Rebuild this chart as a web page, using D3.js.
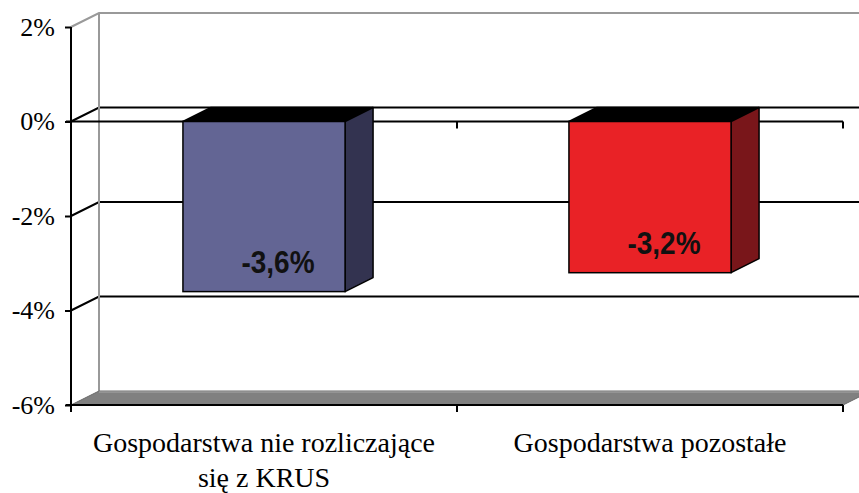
<!DOCTYPE html>
<html>
<head>
<meta charset="utf-8">
<script src="https://cdn.jsdelivr.net/npm/d3@7"></script>
<style>
  body { margin: 0; background: #fff; }
  svg { display: block; }
  .serif { font-family: 'Liberation Serif', 'Times New Roman', serif; }
</style>
</head>
<body>
<div class="chart"></div>
<script>
// data
const categories = [['Gospodarstwa nie rozliczające', 'się z KRUS'], ['Gospodarstwa pozostałe']];
const values = [-3.6, -3.2];
const valueLabels = ['-3,6%', '-3,2%'];
const tickValues = [2, 0, -2, -4, -6];

const frontColors = ['#636594', '#e92226'];
const sideColors = ['#333350', '#79161a'];

const width = 859;
const height = 493;
// depth of the 3d box
const dx = 28;
const dy = -14;

const svg = d3.select('.chart')
    .append('svg')
    .attr('width', width)
    .attr('height', height);

const y = d3.scaleLinear()
    .domain([-6, 2])
    .range([405, 27]);

const x = d3.scaleBand()
    .domain(d3.range(categories.length))
    .range([71, 843])
    .paddingInner(0.58)
    .paddingOuter(0.29);

const left = 71;
const right = 843;

// back wall + side wall gridlines
tickValues.slice(1, -1).forEach(t => {
    svg.append('polyline')
        .attr('points', [[left, y(t)], [left + dx, y(t) + dy], [right + dx, y(t) + dy]].join(' '))
        .attr('fill', 'none')
        .attr('stroke', '#000')
        .attr('stroke-width', 2);
});

// wall edges (gray)
svg.append('polyline')
    .attr('points', [[left, y(2)], [left + dx, y(2) + dy], [right + dx, y(2) + dy]].join(' '))
    .attr('fill', 'none')
    .attr('stroke', '#999')
    .attr('stroke-width', 2);
svg.append('line')
    .attr('x1', left + dx).attr('x2', left + dx)
    .attr('y1', y(2) + dy).attr('y2', y(-6) + dy)
    .attr('stroke', '#999')
    .attr('stroke-width', 2);

// floor
svg.append('polygon')
    .attr('points', [[left, y(-6)], [left + dx, y(-6) + dy], [right + dx, y(-6) + dy], [right, y(-6)]].join(' '))
    .attr('fill', '#808080')
    .attr('stroke', '#6a6a6a')
    .attr('stroke-width', 1);
svg.append('line')
    .attr('x1', left + dx).attr('x2', right + dx)
    .attr('y1', y(-6) + dy + 1).attr('y2', y(-6) + dy + 1)
    .attr('stroke', '#a8a8a8')
    .attr('stroke-width', 1);

// front category lines at 0 and at bottom, with ticks
[0, -6].forEach(level => {
    svg.append('line')
        .attr('x1', left - 5).attr('x2', right)
        .attr('y1', y(level)).attr('y2', y(level))
        .attr('stroke', '#000')
        .attr('stroke-width', 2);
    svg.selectAll('.ctick' + (-level))
        .data([left, (left + right) / 2, right])
        .enter()
        .append('line')
        .attr('x1', d => d).attr('x2', d => d)
        .attr('y1', y(level)).attr('y2', y(level) + 7)
        .attr('stroke', '#000')
        .attr('stroke-width', 2);
});

// bars
const bars = svg.selectAll('.bar')
    .data(values)
    .enter()
    .append('g')
    .attr('class', 'bar');

// top face
bars.append('polygon')
    .attr('points', (d, i) => {
        const x0 = x(i), x1 = x(i) + x.bandwidth(), y0 = y(0);
        return [[x0, y0], [x0 + dx, y0 + dy], [x1 + dx, y0 + dy], [x1, y0]].join(' ');
    })
    .attr('fill', '#000')
    .attr('stroke', '#000')
    .attr('stroke-width', 1.5)
    .attr('stroke-linejoin', 'round');
// side face
bars.append('polygon')
    .attr('points', (d, i) => {
        const x1 = x(i) + x.bandwidth(), y0 = y(0), y1 = y(d);
        return [[x1, y0], [x1 + dx, y0 + dy], [x1 + dx, y1 + dy], [x1, y1]].join(' ');
    })
    .attr('fill', (d, i) => sideColors[i])
    .attr('stroke', '#000')
    .attr('stroke-width', 1.5)
    .attr('stroke-linejoin', 'round');
// front face
bars.append('rect')
    .attr('x', (d, i) => x(i))
    .attr('y', y(0))
    .attr('width', x.bandwidth())
    .attr('height', d => y(d) - y(0))
    .attr('fill', (d, i) => frontColors[i])
    .attr('stroke', '#000')
    .attr('stroke-width', 1.5);

// value labels (slightly stretched vertically like the original)
bars.append('text')
    .text((d, i) => valueLabels[i])
    .attr('transform', (d, i) => `translate(${x(i) + x.bandwidth() / 2 + dx / 2},${y(d) - 19}) scale(1,1.12)`)
    .attr('text-anchor', 'middle')
    .style('font-family', "'Liberation Sans', Arial, sans-serif")
    .style('font-weight', 'bold')
    .style('font-size', '28px')
    .attr('fill', '#111');

// y axis
const yAxis = svg.append('g')
    .attr('transform', `translate(${left},0)`)
    .call(d3.axisLeft(y)
        .tickValues(tickValues)
        .tickSize(6)
        .tickPadding(10)
        .tickFormat(d => d + '%'));
yAxis.select('.domain')
    .attr('d', `M0,${y(2)}V${y(-6) + 7}`)
    .attr('stroke', '#000')
    .attr('stroke-width', 2);
yAxis.selectAll('.tick line')
    .attr('stroke', '#000')
    .attr('stroke-width', 2);
yAxis.selectAll('.tick text')
    .attr('class', 'serif')
    .style('font-size', '26px')
    .attr('fill', '#000');

// category labels
svg.selectAll('.cat-label')
    .data(categories)
    .enter()
    .append('text')
    .attr('class', 'cat-label serif')
    .attr('text-anchor', 'middle')
    .style('font-size', '28px')
    .attr('fill', '#000')
    .each(function (lines, i) {
        d3.select(this).selectAll('tspan')
            .data(lines)
            .enter()
            .append('tspan')
            .attr('x', x(i) + x.bandwidth() / 2)
            .attr('y', (l, j) => 452 + j * 35)
            .text(l => l);
    });
</script>
</body>
</html>
